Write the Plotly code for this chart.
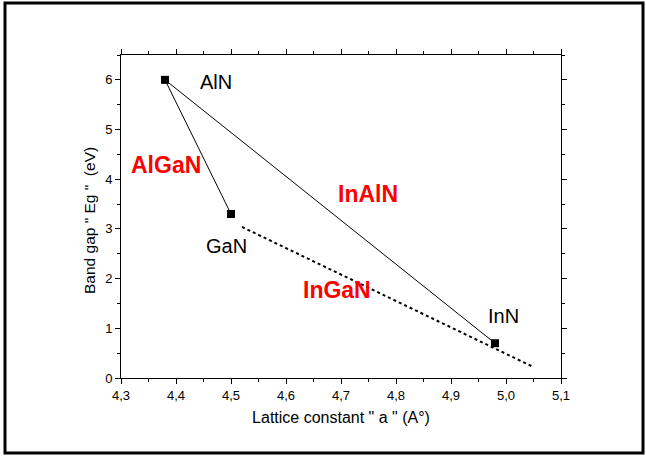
import plotly.graph_objects as go

# Data
compounds = ["AlN", "GaN", "InN"]
lattice_a = [4.38, 4.50, 4.98]
band_gap = [6.0, 3.3, 0.7]

ingan_a = [4.52, 5.05]
ingan_eg = [3.04, 0.22]

label_names = ["AlN", "GaN", "InN"]
label_x = [4.473, 4.491, 4.996]
label_y = [5.96, 2.66, 1.25]

alloy_names = ["AlGaN", "InAlN", "InGaN"]
alloy_x = [4.382, 4.749, 4.692]
alloy_y = [4.29, 3.70, 1.77]

FONT = "Liberation Sans, Arial, sans-serif"

fig = go.Figure()

# AlN-GaN line
fig.add_trace(go.Scatter(x=[lattice_a[0], lattice_a[1]], y=[band_gap[0], band_gap[1]],
                         mode="lines", line=dict(color="black", width=1), showlegend=False))
# AlN-InN line
fig.add_trace(go.Scatter(x=[lattice_a[0], lattice_a[2]], y=[band_gap[0], band_gap[2]],
                         mode="lines", line=dict(color="black", width=1), showlegend=False))
# InGaN dotted line
fig.add_trace(go.Scatter(x=ingan_a, y=ingan_eg, mode="lines",
                         line=dict(color="black", width=2, dash="dot"), showlegend=False))
# markers
fig.add_trace(go.Scatter(x=lattice_a, y=band_gap, mode="markers",
                         marker=dict(symbol="square", size=8, color="black"),
                         showlegend=False))

for n, x, y in zip(label_names, label_x, label_y):
    fig.add_annotation(x=x, y=y, text=n, showarrow=False,
                       font=dict(family=FONT, size=20, color="black"))
for n, x, y in zip(alloy_names, alloy_x, alloy_y):
    fig.add_annotation(x=x, y=y, text="<b>" + n + "</b>", showarrow=False,
                       font=dict(family=FONT, size=23, color="#ff0000"))

# outer frame (plot area 121..561 x 55..378 px)
L, R, T, B = 121, 561, 55, 378
W, H = R - L, B - T
def px(x):
    return (x - L) / W
def py(y):
    return (B - y) / H
fig.add_shape(type="rect", xref="paper", yref="paper",
              x0=px(5), x1=px(643), y0=py(453), y1=py(3),
              line=dict(color="black", width=3), fillcolor="rgba(0,0,0,0)")

# y-axis title (slightly below centre, as in the original)
fig.add_annotation(xref="paper", yref="paper", x=px(90), y=py(221),
                   text='Band gap " Eg "  (eV)', textangle=-90, showarrow=False,
                   xanchor="center", yanchor="middle",
                   font=dict(family=FONT, size=15.5, color="black"))

fig.update_xaxes(range=[4.3, 5.1], tick0=4.3, dtick=0.1, tickformat=".1f",
                 showgrid=False, zeroline=False, showline=True, linecolor="black",
                 linewidth=1, mirror="ticks", ticks="outside", ticklen=5,
                 tickcolor="black",
                 minor=dict(dtick=0.05, ticks="outside", ticklen=3, tickcolor="black"),
                 tickfont=dict(family=FONT, size=13, color="black"),
                 title=dict(text='Lattice constant " a " (A°)', standoff=10,
                            font=dict(family=FONT, size=16, color="black")))
fig.update_yaxes(range=[0, 6.5], tick0=0, dtick=1,
                 showgrid=False, zeroline=False, showline=True, linecolor="black",
                 linewidth=1, mirror="ticks", ticks="outside", ticklen=5,
                 tickcolor="black",
                 minor=dict(dtick=0.5, ticks="outside", ticklen=3, tickcolor="black"),
                 tickfont=dict(family=FONT, size=13, color="black"))

fig.update_layout(width=646, height=456, margin=dict(l=L, r=646 - R, t=T, b=456 - B),
                  plot_bgcolor="white", paper_bgcolor="white",
                  separators=", ")

fig.write_html("out.html")
